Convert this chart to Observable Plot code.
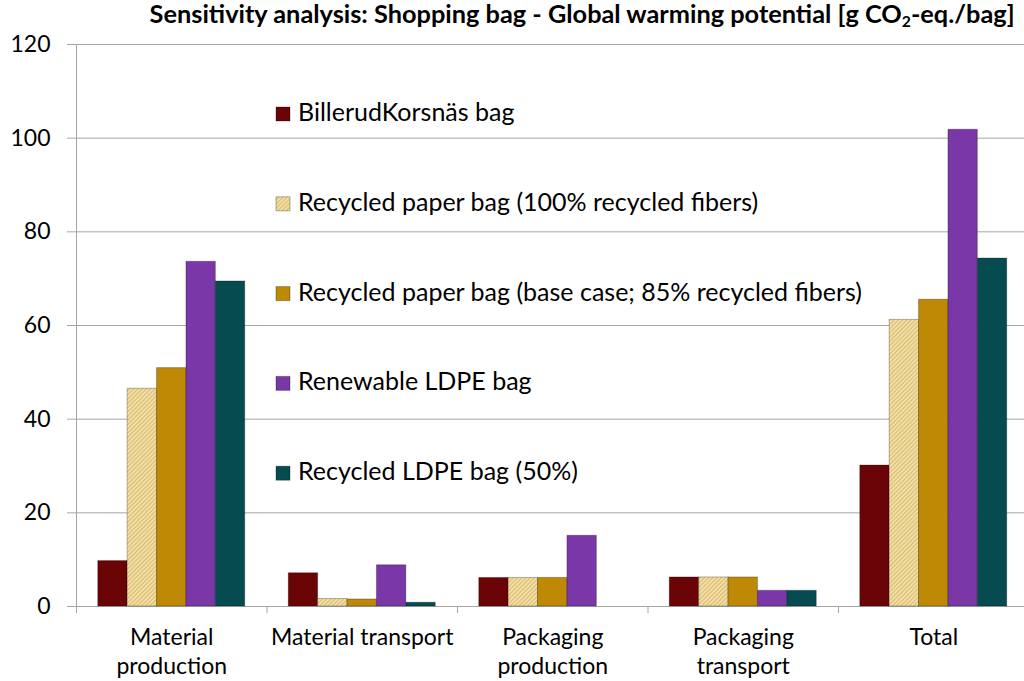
<!DOCTYPE html>
<html>
<head>
<meta charset="utf-8">
<script src="https://cdn.jsdelivr.net/npm/d3@7"></script>
<script src="https://cdn.jsdelivr.net/npm/@observablehq/plot@0.6"></script>
<style>
  body { margin: 0; background: #fff; }
  #wrap { position: relative; width: 1024px; height: 681px; overflow: hidden; font-family: Lato, sans-serif; }
  #title { position: absolute; top: 0; right: 9px; font-weight: bold; font-size: 24px; line-height: 1.2; white-space: nowrap; transform-origin: right top; color: #000; }
  #title sub { font-size: 0.62em; vertical-align: -0.25em; line-height: 0; }
</style>
</head>
<body>
<div id="wrap">
  <div id="chart"></div>
  <div id="title">Sensitivity analysis: Shopping bag - Global warming potential [g CO<sub>2</sub>-eq./bag]</div>
</div>
<script>
// ---- Data ----
const categories = ["Material production", "Material transport", "Packaging production", "Packaging transport", "Total"];
const categoryLabels = ["Material\nproduction", "Material transport", "Packaging\nproduction", "Packaging\ntransport", "Total"];
const series = [
  "BillerudKorsnäs bag",
  "Recycled paper bag (100% recycled fibers)",
  "Recycled paper bag (base case; 85% recycled fibers)",
  "Renewable LDPE bag",
  "Recycled LDPE bag (50%)"
];
const billerudKorsnas   = [9.7, 7.1, 6.1, 6.2, 30.1];
const recycledPaper100  = [46.5, 1.6, 6.1, 6.2, 61.2];
const recycledPaperBase = [50.9, 1.5, 6.1, 6.2, 65.5];
const renewableLDPE     = [73.6, 8.8, 15.1, 3.35, 101.8];
const recycledLDPE50    = [69.4, 0.8, 0, 3.35, 74.3];
const yTicks = [0, 20, 40, 60, 80, 100, 120];

const seriesValues = [billerudKorsnas, recycledPaper100, recycledPaperBase, renewableLDPE, recycledLDPE50];
const colors = ["#6a0406", "url(#hatch)", "#be8905", "#7a37a8", "#064b50"];

const rows = series.flatMap((s, si) =>
  categories.map((c, ci) => ({series: s, category: c, si, ci, value: seriesValues[si][ci]}))
);

const bw = 0.1543; // bar width as fraction of a category step
const gray = "#a6a6a6";

const plot = Plot.plot({
  width: 1024,
  height: 681,
  marginTop: 44,
  marginBottom: 75,
  marginLeft: 76,
  marginRight: 0,
  style: {fontFamily: "Lato, sans-serif", fontSize: "23px", background: "white", color: "#000"},
  x: {type: "linear", domain: [-0.5, 4.5], range: [76, 1028.5], axis: null},
  y: {domain: [0, 120], axis: null},
  color: {type: "ordinal", domain: series, range: colors},
  marks: [
    Plot.gridY(yTicks, {stroke: gray, strokeOpacity: 1, strokeWidth: 1}),
    Plot.axisY({ticks: yTicks, tickSize: 9, tickPadding: 17, stroke: gray, fill: "#000", fontSize: 23, label: null, tickFormat: d => String(d)}),
    Plot.ruleX([-0.5], {y1: 0, y2: 120, stroke: gray}),
    Plot.axisX({ticks: [-0.5, 0.5, 1.5, 2.5, 3.5], tickSize: 7, tickFormat: () => "", stroke: gray, label: null}),
    Plot.axisX({ticks: [0, 1, 2, 3, 4], tickSize: 0, tickPadding: 18, fontSize: 23, lineHeight: 1.25, fill: "#000", label: null,
      tickFormat: i => categoryLabels[i]}),
    Plot.rectY(rows, {
      x1: d => d.ci + (d.si - 2.5) * bw,
      x2: d => d.ci + (d.si - 1.5) * bw,
      y1: 0,
      y2: "value",
      fill: "series",
      stroke: "rgba(0,0,0,0.28)",
      strokeWidth: 1
    })
  ]
});

// hatch pattern for the 100% recycled paper bag
const svg = d3.select(plot);
const defs = svg.insert("defs", ":first-child");
const pat = defs.append("pattern")
  .attr("id", "hatch").attr("patternUnits", "userSpaceOnUse")
  .attr("width", 3).attr("height", 3)
  .attr("patternTransform", "rotate(45)");
pat.append("rect").attr("width", 3).attr("height", 3).attr("fill", "#f3dfa3");
pat.append("line").attr("x1", 0).attr("y1", 0).attr("x2", 0).attr("y2", 3)
  .attr("stroke", "#c7a457").attr("stroke-width", 1.3);

// legend inside the plot area
const lg = svg.append("g")
  .attr("font-family", "Lato, sans-serif").attr("font-size", 25).attr("text-anchor", "start");
series.forEach((s, i) => {
  const base = 121 + i * 89.8;
  lg.append("rect").attr("x", 276).attr("y", base - 14).attr("width", 14).attr("height", 14)
    .attr("fill", colors[i]).attr("stroke", "rgba(0,0,0,0.3)");
  lg.append("text").attr("x", 298).attr("y", base).attr("fill", "#000")
    .attr("text-anchor", "start").text(s);
});

document.getElementById("chart").appendChild(plot);

// fit the condensed bold title to its span
const t = document.getElementById("title");
const w = t.getBoundingClientRect().width;
t.style.transform = `scaleX(${865 / w})`;
</script>
</body>
</html>
